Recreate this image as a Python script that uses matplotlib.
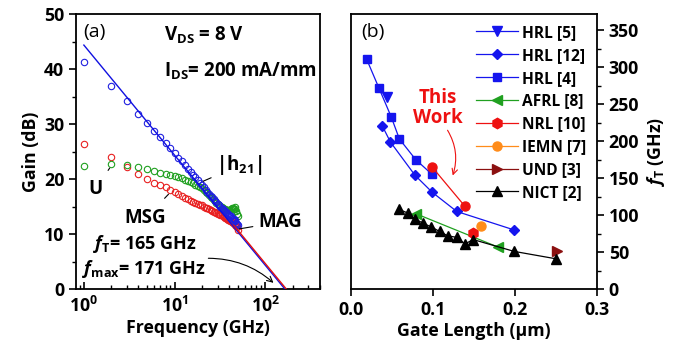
import matplotlib.pyplot as plt
import numpy as np
from matplotlib.ticker import LogLocator, NullFormatter, MultipleLocator

plt.rcParams['font.family'] = ['Open Sans', 'DejaVu Sans']
plt.rcParams['font.weight'] = 'bold'
plt.rcParams['mathtext.fontset'] = 'custom'
plt.rcParams['mathtext.it'] = 'Open Sans:italic:bold'
plt.rcParams['mathtext.rm'] = 'Open Sans:bold'

# (a) gain vs frequency
freq = np.arange(1, 51)
h21 = [41.3, 37.0, 34.1, 31.9, 30.2, 28.7, 27.6, 26.5, 25.6, 24.7,
       23.9, 23.2, 22.5, 21.9, 21.3, 20.8, 20.3, 19.8, 19.3, 18.9,
       18.5, 18.1, 17.7, 17.3, 17.0, 16.7, 16.4, 16.1, 15.8, 15.5,
       15.3, 15.0, 14.8, 14.6, 14.4, 14.2, 14.0, 13.8, 13.6, 13.5,
       13.3, 13.2, 13.0, 12.8, 12.7, 12.5, 12.3, 12.1, 11.9, 11.6]
U = [22.4, 22.7, 22.5, 22.2, 21.8, 21.4, 21.1, 20.9, 20.8, 20.6,
     20.4, 20.2, 19.9, 19.7, 19.5, 19.2, 19.0, 18.7, 18.5, 18.3,
     18.0, 17.7, 17.4, 17.1, 16.8, 16.5, 16.2, 16.0, 15.7, 15.5,
     15.3, 15.1, 14.9, 14.8, 14.6, 14.5, 14.4, 14.3, 14.3, 14.3,
     14.4, 14.5, 14.7, 14.8, 14.6, 14.9, 14.5, 14.2, 13.7, 13.2]
msg = [26.4, 24.0, 22.2, 20.9, 20.0, 19.3, 18.9, 18.5, 18.0, 17.6,
       17.2, 16.9, 16.6, 16.3, 16.1, 15.9, 15.7, 15.5, 15.3, 15.2,
       15.0, 14.8, 14.7, 14.5, 14.4, 14.2, 14.1, 14.0, 13.8, 13.7,
       13.6, 13.5, 13.4, 13.3, 13.1, 13.0, 12.9, 12.8, 12.6, 12.5,
       12.4, 12.3, 12.2, 12.1, 12.0, 11.9, 11.7, 11.5, 11.2, 10.8]
fT = 165
fmax = 171
mag_start = 45

# (b) fT vs gate length
hrl5_x, hrl5_y = [0.044], [260]
hrl12_x = [0.038, 0.048, 0.078, 0.099, 0.129, 0.199]
hrl12_y = [221, 199, 154, 131, 105, 80]
hrl4_x = [0.019, 0.034, 0.049, 0.059, 0.079, 0.099]
hrl4_y = [311, 272, 233, 203, 175, 155]
afrl_x, afrl_y = [0.079, 0.179], [102, 57]
nrl_x, nrl_y = [0.149], [76]
iemn_x, iemn_y = [0.159], [85]
und_x, und_y = [0.251], [52]
nict_x = [0.058, 0.069, 0.078, 0.088, 0.098, 0.108, 0.118, 0.129, 0.139, 0.149, 0.199, 0.250]
nict_y = [108, 103, 95, 89, 84, 78, 72, 70, 61, 67, 51, 41]
work_x, work_y = [0.099, 0.139], [165, 112]

fig = plt.figure(figsize=(6.79, 3.5), dpi=100)
ax1 = fig.add_axes([0.112, 0.174, 0.359, 0.786])
ax2 = fig.add_axes([0.517, 0.174, 0.362, 0.786])

fs = 12.8
ft = 13.5
for ax in (ax1, ax2):
    for s in ax.spines.values():
        s.set_linewidth(1.3)

# panel (a)
f_line = np.array([1, fT])
ax1.plot(f_line, 20 * np.log10(fT / f_line), color='#1010e0', lw=1.0, zorder=3)
f_mag = np.array([mag_start, fmax])
ax1.plot(f_mag, 20 * np.log10(fmax / f_mag), color='#e01010', lw=1.0, zorder=3)
ax1.plot(freq, msg, 'o', mfc='none', mec='#e82020', ms=4.6, mew=0.8)
ax1.plot(freq, U, 'o', mfc='none', mec='#20a020', ms=4.6, mew=0.8)
ax1.plot(freq, h21, 'o', mfc='none', mec='#2020e0', ms=4.6, mew=0.8)

ax1.set_xscale('log')
ax1.set_xlim(0.82, 400)
ax1.set_ylim(0, 50)
ax1.yaxis.set_major_locator(MultipleLocator(10))
ax1.yaxis.set_minor_locator(MultipleLocator(5))
ax1.xaxis.set_minor_locator(LogLocator(base=10, subs=np.arange(2, 10), numticks=20))
ax1.xaxis.set_minor_formatter(NullFormatter())
ax1.tick_params(axis='x', which='both', direction='in', labelsize=fs, pad=5)
ax1.tick_params(axis='x', which='major', length=5, width=1.2)
ax1.tick_params(axis='x', which='minor', length=3, width=1)
ax1.tick_params(axis='y', which='major', direction='out', length=5, width=1.2, labelsize=fs)
ax1.tick_params(axis='y', which='minor', direction='out', length=3, width=1)
ax1.set_xlabel('Frequency (GHz)', fontsize=fs, fontweight='bold', labelpad=2)
ax1.set_ylabel('Gain (dB)', fontsize=fs, fontweight='bold', labelpad=3)

ax1.text(0.03, 0.935, '(a)', transform=ax1.transAxes, fontsize=14, fontweight='normal', va='center')
ax1.text(0.36, 0.924, r'V$_{\mathrm{DS}}$ = 8 V', transform=ax1.transAxes, fontsize=ft, va='center')
ax1.text(0.36, 0.79, r'I$_{\mathrm{DS}}$= 200 mA/mm', transform=ax1.transAxes, fontsize=ft, va='center')
ax1.text(0.07, 0.165, r'$f_{\mathrm{T}}$= 165 GHz', transform=ax1.transAxes, fontsize=13, va='center')
ax1.text(0.025, 0.072, r'$f_{\mathrm{max}}$= 171 GHz', transform=ax1.transAxes, fontsize=13, va='center')
ax1.annotate('', xy=(130, 0.8), xytext=(22, 5.6),
             arrowprops=dict(arrowstyle='->', color='black', lw=0.8,
                             connectionstyle='arc3,rad=-0.2'))
ax1.annotate('|h$_{21}$|', xy=(20, 19.5), xytext=(29, 22.5), fontsize=ft,
             ha='left', va='center',
             arrowprops=dict(arrowstyle='-', color='black', lw=0.8, shrinkA=2, shrinkB=1))
ax1.annotate('U', xy=(2.0, 22.4), xytext=(1.35, 18.2), fontsize=ft,
             ha='center', va='center',
             arrowprops=dict(arrowstyle='-', color='black', lw=0.8, shrinkA=5, shrinkB=2))
ax1.annotate('MSG', xy=(9.0, 17.6), xytext=(4.8, 12.9), fontsize=ft,
             ha='center', va='center',
             arrowprops=dict(arrowstyle='-', color='black', lw=0.8, shrinkA=7, shrinkB=2))
ax1.annotate('MAG', xy=(50, 10.9), xytext=(84, 12.2), fontsize=ft,
             ha='left', va='center',
             arrowprops=dict(arrowstyle='-', color='black', lw=0.8, shrinkA=2, shrinkB=1))

# panel (b)
blue = '#1515ee'
ax2.plot(hrl5_x, hrl5_y, 'v-', color=blue, ms=6.5, lw=0.9, label='HRL [5]')
ax2.plot(hrl12_x, hrl12_y, 'D-', color=blue, ms=5.5, lw=0.9, label='HRL [12]')
ax2.plot(hrl4_x, hrl4_y, 's-', color=blue, ms=5.5, lw=0.9, label='HRL [4]')
ax2.plot(afrl_x, afrl_y, '<-', color='#20a020', ms=6.5, lw=0.9, label='AFRL [8]')
ax2.plot(nrl_x, nrl_y, 'h-', color='#ee1111', ms=7.5, lw=0.9, label='NRL [10]')
ax2.plot(iemn_x, iemn_y, 'o-', color='#ff8c1a', ms=6.5, lw=0.9, label='IEMN [7]')
ax2.plot(und_x, und_y, '>-', color='#8b1010', ms=6.5, lw=0.9, label='UND [3]')
ax2.plot(nict_x, nict_y, '^-', color='black', ms=6.5, lw=0.9, label='NICT [2]')
ax2.plot(work_x, work_y, 'o-', color='#ee1111', ms=6.5, lw=0.9)

ax2.set_xlim(0, 0.3)
ax2.set_ylim(0, 372)
ax2.xaxis.set_major_locator(MultipleLocator(0.1))
ax2.yaxis.set_major_locator(MultipleLocator(50))
ax2.yaxis.set_minor_locator(MultipleLocator(25))
ax2.yaxis.tick_right()
ax2.yaxis.set_label_position('right')
ax2.tick_params(axis='both', which='major', direction='out', length=5, width=1.2, labelsize=fs)
ax2.tick_params(axis='y', which='minor', direction='out', length=3, width=1)
ax2.set_xlabel('Gate Length (\u03bcm)', fontsize=fs, fontweight='bold', labelpad=2)
ax2.set_ylabel(r'$f_{\mathrm{T}}$ (GHz)', fontsize=fs, fontweight='bold', labelpad=4)

ax2.text(0.04, 0.935, '(b)', transform=ax2.transAxes, fontsize=14, fontweight='normal', va='center')
ax2.text(0.106, 245, 'This\nWork', color='#ee1111', fontsize=ft, ha='center', va='center',
         linespacing=1.05)
ax2.annotate('', xy=(0.123, 150), xytext=(0.116, 218),
             arrowprops=dict(arrowstyle='->', color='#ee1111', lw=0.8,
                             connectionstyle='arc3,rad=-0.25'))

leg = ax2.legend(loc='upper right', frameon=False, fontsize=11.2, handlelength=2.7,
                 labelspacing=0.44, handletextpad=0.25, borderaxespad=0.3)

fig.savefig('out.png', dpi=100)
